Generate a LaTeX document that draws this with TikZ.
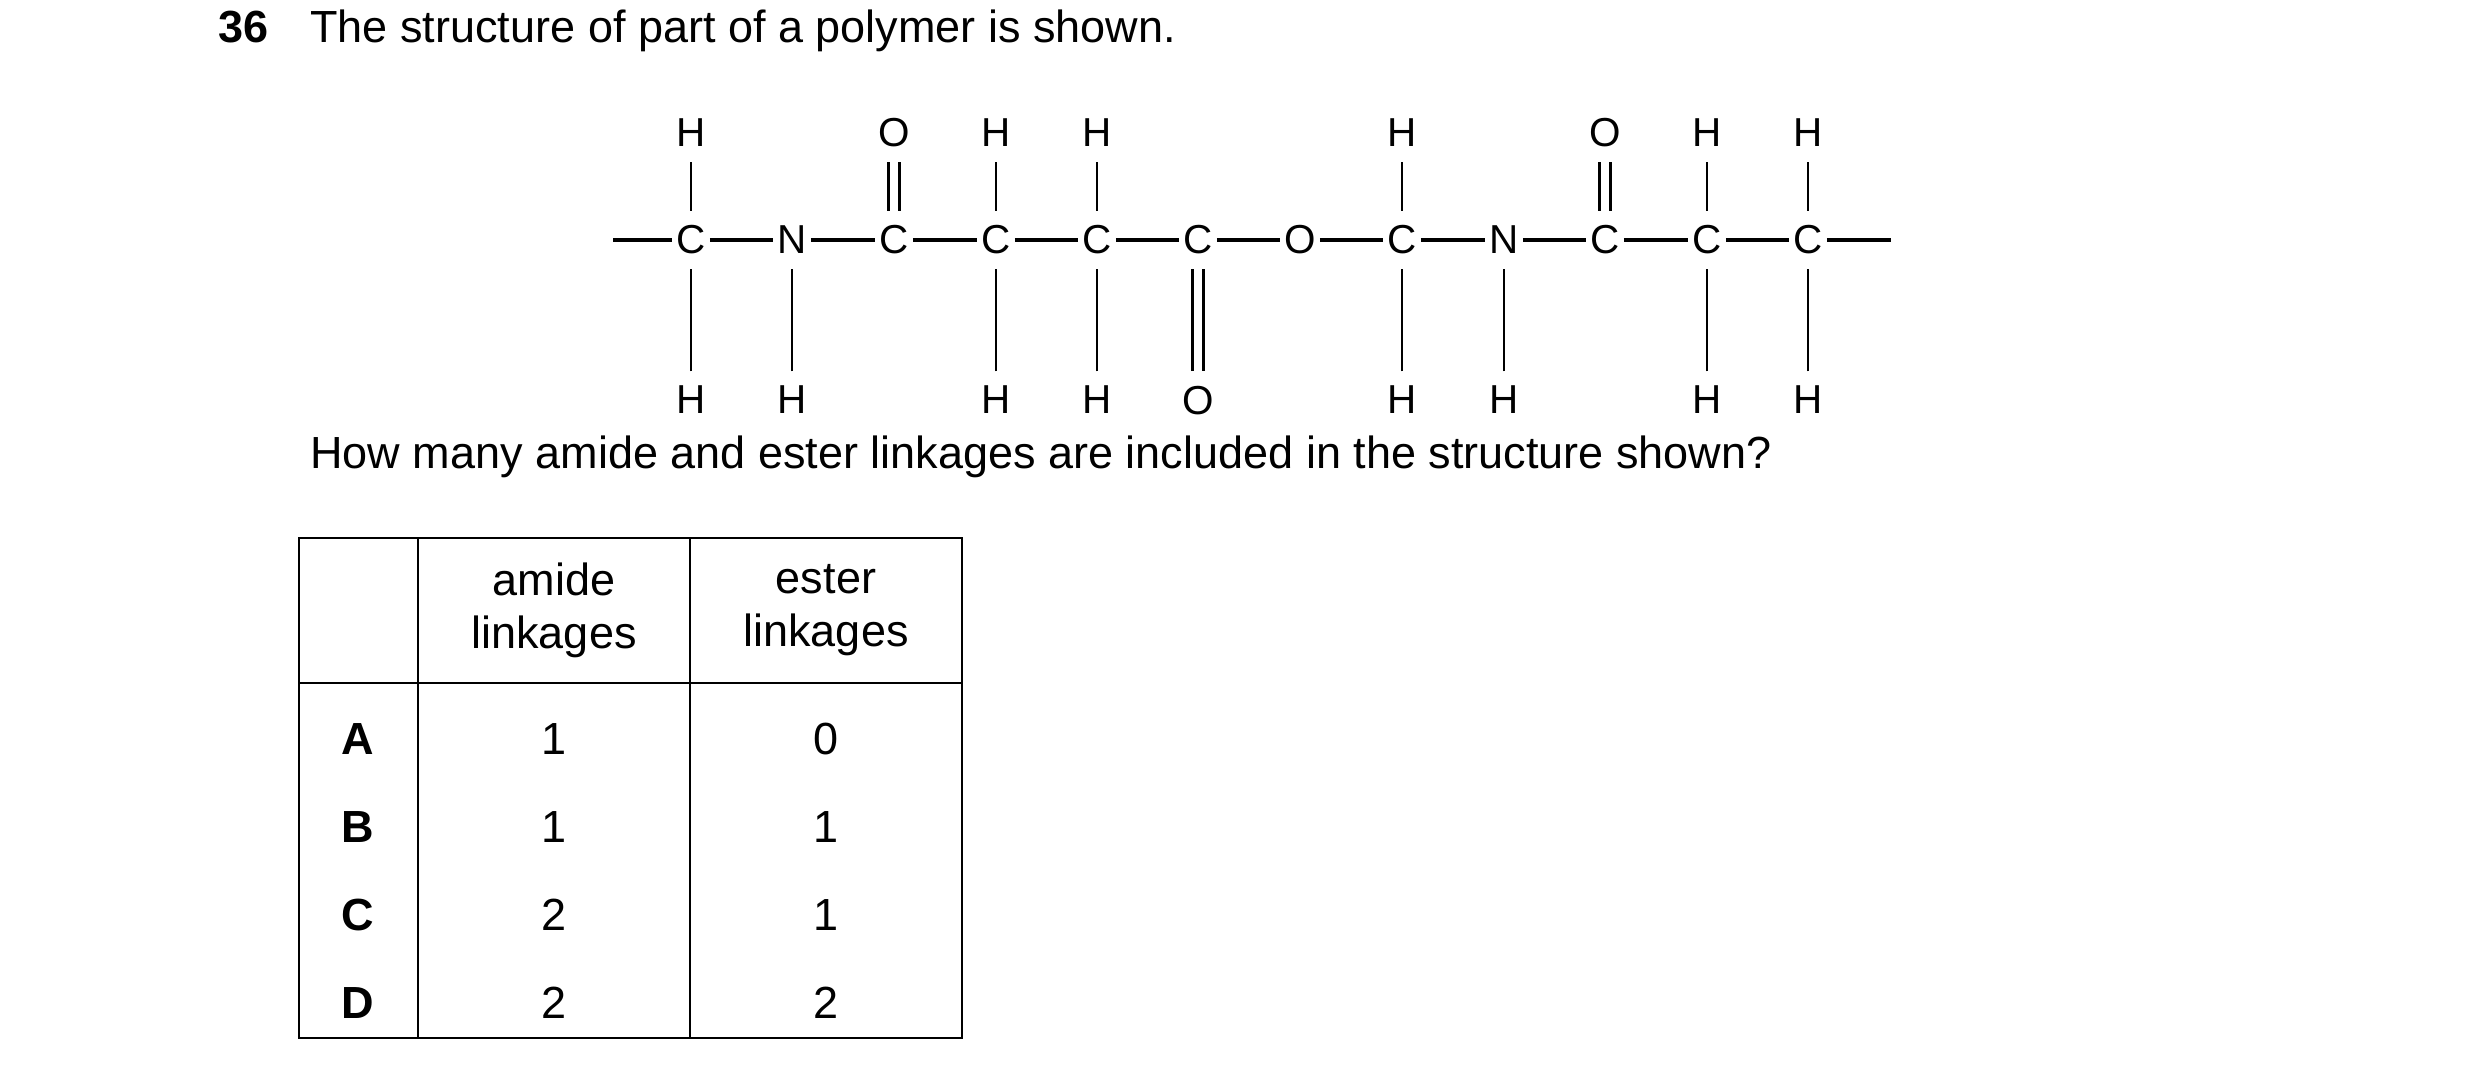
\documentclass[tikz,border=0pt]{standalone}
\usepackage{fontspec}
\setmainfont{Liberation Sans}
\usetikzlibrary{positioning}
\begin{document}
\begin{tikzpicture}[x=0.01cm, y=-0.01cm,
  atom/.style={font=\fontsize{11.5}{13}\selectfont, inner sep=1pt},
  txt/.style={font=\fontsize{12.8}{15}\selectfont, anchor=base west},
  cell/.style={font=\fontsize{12.8}{15}\selectfont, align=center},
  bond/.style={line width=1.1pt},
  vbond/.style={line width=0.7pt, shorten <=3pt, shorten >=3pt}]

\useasboundingbox (0,0) rectangle (2480,1067);

% Question
\node[txt, font=\fontsize{12.8}{15}\selectfont\bfseries] (num) at (206,43) {36};
\node[txt] (title) at (298,43) {The structure of part of a polymer is shown.};
\node[txt] (quest) at (298,469) {How many amide and ester linkages are included in the structure shown?};

% Chain
\foreach \n/\x/\a in {1/691/C, 2/792/N, 3/894/C, 4/996/C, 5/1097/C, 6/1198/C,
                      7/1300/O, 8/1402/C, 9/1504/N, 10/1605/C, 11/1707/C, 12/1808/C}
  \node[atom] (a\n) at (\x,240) {\a};
\coordinate (left) at (613,240);
\coordinate (right) at (1891,240);
\draw[bond] (left) -- (a1.west);
\foreach \i [count=\j from 2] in {1,...,11}
  \draw[bond] (a\i.east) -- (a\j.west);
\draw[bond] (a12.east) -- (right);

% Top substituents
\foreach \n/\a in {1/H, 2/H, 4/H, 5/H, 8/H, 9/H, 11/H, 12/H}{
  \node[atom] (t\n) at ([yshift=-1.6cm]a\n) {\a};
  \draw[vbond] (t\n) -- (a\n);
}
\node[atom] (t6) at ([yshift=-1.6cm]a6) {O};
\draw[vbond, double, double distance=2.5pt] (t6) -- (a6);

% Bottom substituents
\foreach \n/\a in {1/H, 4/H, 5/H, 8/H, 11/H, 12/H}{
  \node[atom] (b\n) at ([yshift=1.07cm]a\n) {\a};
  \draw[vbond] (a\n) -- (b\n);
}
\foreach \n in {3,10}{
  \node[atom] (b\n) at ([yshift=1.07cm]a\n) {O};
  \draw[vbond, double, double distance=2.5pt] (a\n) -- (b\n);
}

% Table
\draw[line width=0.8pt] (299,538) rectangle (962,1038);
\draw[line width=0.8pt] (418,538) -- (418,1038);
\draw[line width=0.8pt] (690,538) -- (690,1038);
\draw[line width=0.8pt] (299,683) -- (962,683);
\node[cell] (hamide) at (554,610) {amide\\linkages};
\node[cell] (hester) at (826,610) {ester\\linkages};
\foreach \r/\y/\m/\e in {A/739/1/0, B/827/1/1, C/915/2/1, D/1003/2/2}{
  \node[cell, font=\fontsize{12.8}{15}\selectfont\bfseries] (r\r) at (358,\y) {\r};
  \node[cell] (m\r) at (554,\y) {\m};
  \node[cell] (e\r) at (826,\y) {\e};
}
\end{tikzpicture}
\end{document}
